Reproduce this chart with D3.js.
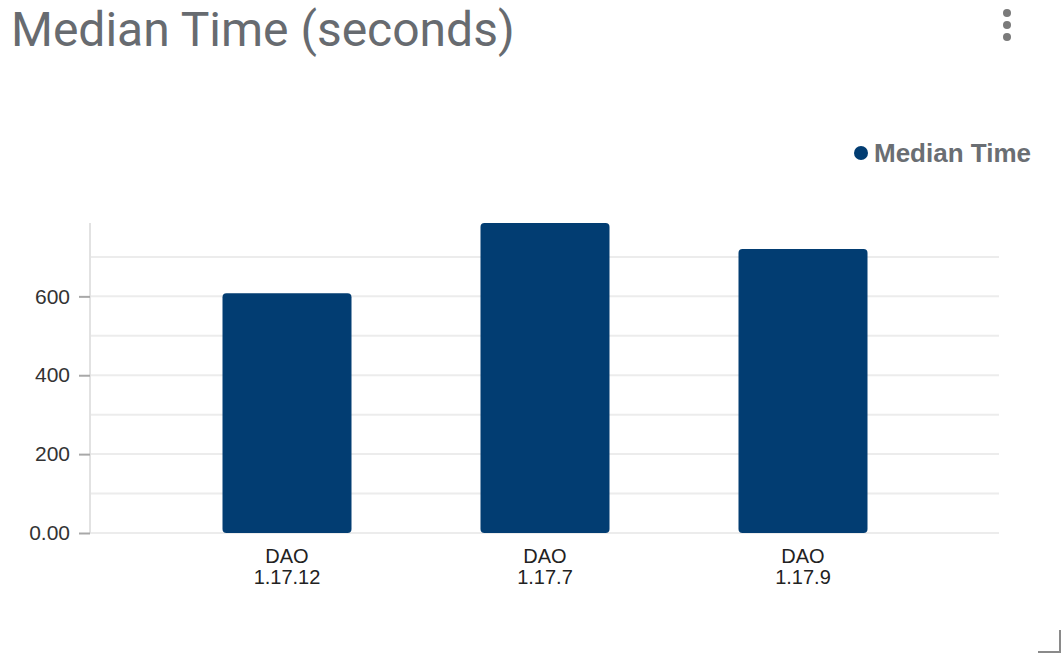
<!DOCTYPE html>
<html>
<head>
<meta charset="utf-8">
<script src="https://cdn.jsdelivr.net/npm/d3@7"></script>
<style>
  html, body { margin: 0; padding: 0; background: #fff; }
  svg { display: block; }
</style>
</head>
<body>
<script>
let categories = ["DAO 1.17.12", "DAO 1.17.7", "DAO 1.17.9"];
let medianTime = [608, 786, 720];
let gridValues = [0, 100, 200, 300, 400, 500, 600, 700];
let tickValues = [0, 200, 400, 600];
let seriesName = "Median Time";
let title = "Median Time (seconds)";

let width = 1064;
let height = 654;
let barColor = "#023d72";

let svg = d3.select("body")
    .append("svg")
    .attr("width", width)
    .attr("height", height);

let x = d3.scaleBand()
    .domain(categories)
    .range([158, 932])
    .paddingInner(0.5)
    .paddingOuter(0.25);

let y = d3.scaleLinear()
    .domain([0, d3.max(medianTime)])
    .range([533, 223]);

// title
svg.append("text")
    .attr("x", 11)
    .attr("y", 46)
    .style("font-family", "Roboto")
    .style("font-size", "48px")
    .style("fill", "#676b70")
    .text(title);

// kebab menu
svg.selectAll("circle.menu")
    .data([13, 25, 37])
    .join("circle")
    .attr("class", "menu")
    .attr("cx", 1007)
    .attr("cy", d => d)
    .attr("r", 4)
    .style("fill", "#7a7a7a");

// legend
svg.append("circle")
    .attr("cx", 861)
    .attr("cy", 153)
    .attr("r", 7)
    .style("fill", barColor);

svg.append("text")
    .attr("x", 874)
    .attr("y", 162)
    .style("font-family", "Liberation Sans, Arial")
    .style("font-weight", "bold")
    .style("font-size", "26px")
    .style("fill", "#6a6e73")
    .text(seriesName);

// grid lines
svg.append("g")
    .selectAll("line")
    .data(gridValues)
    .join("line")
    .attr("x1", 90)
    .attr("x2", 999)
    .attr("y1", d => y(d))
    .attr("y2", d => y(d))
    .style("stroke", "#ececec")
    .style("stroke-width", 2);

// y axis
let yAxis = svg.append("g")
    .attr("transform", "translate(90,0)")
    .call(d3.axisLeft(y)
        .tickValues(tickValues)
        .tickSize(11)
        .tickPadding(9)
        .tickFormat(d => d === 0 ? "0.00" : d3.format("d")(d)));

yAxis.select(".domain")
    .attr("d", "M0," + y.range()[1] + "V" + y.range()[0])
    .style("stroke", "#e2e2e2")
    .style("stroke-width", 2);

yAxis.selectAll(".tick line")
    .style("stroke", "#a8a8a8")
    .style("stroke-width", 2);

yAxis.selectAll(".tick text")
    .style("font-family", "Liberation Sans, Arial")
    .style("font-size", "21px")
    .style("fill", "#333");

// bars
svg.append("g")
    .selectAll("rect")
    .data(categories)
    .join("rect")
    .attr("x", d => x(d))
    .attr("y", (d, i) => y(medianTime[i]))
    .attr("width", x.bandwidth())
    .attr("height", (d, i) => y(0) - y(medianTime[i]))
    .attr("rx", 4)
    .style("fill", barColor);

// x labels (two lines)
let xLabels = svg.append("g")
    .selectAll("text")
    .data(categories)
    .join("text")
    .attr("x", d => x(d) + x.bandwidth() / 2)
    .attr("y", 563)
    .attr("text-anchor", "middle")
    .style("font-family", "Liberation Sans, Arial")
    .style("font-size", "20px")
    .style("fill", "#222");

xLabels.each(function (d) {
    let parts = d.split(" ");
    let t = d3.select(this);
    t.append("tspan").attr("x", x(d) + x.bandwidth() / 2).attr("dy", 0).text(parts[0]);
    t.append("tspan").attr("x", x(d) + x.bandwidth() / 2).attr("dy", 21).text(parts[1]);
});

// resize corner
svg.append("path")
    .attr("d", "M1060,630V652H1038")
    .style("fill", "none")
    .style("stroke", "#8a8a8a")
    .style("stroke-width", 2);
</script>
</body>
</html>
